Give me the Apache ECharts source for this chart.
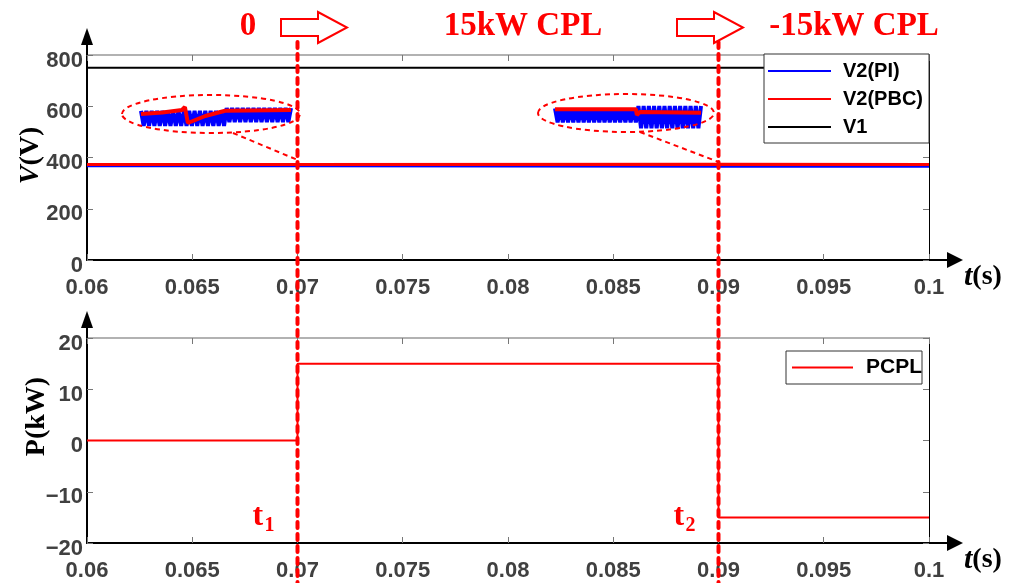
<!DOCTYPE html>
<html>
<head>
<meta charset="utf-8">
<script src="https://cdn.jsdelivr.net/npm/echarts@6/dist/echarts.min.js"></script>
<style>html,body{margin:0;padding:0;background:#fff;}#main{width:1023px;height:583px;}</style>
</head>
<body>
<div id="main"></div>
<script>
// ---------- data ----------
const xTickLabels = ['0.06','0.065','0.07','0.075','0.08','0.085','0.09','0.095','0.1'];
const tMain  = [0.06, 0.07, 0.09, 0.1];
const v2PI   = [368, 368, 366, 366];
const v2PBC  = [373, 373, 374, 373];
const v1     = [750, 750, 750, 750];
const tP     = [0.06, 0.07, 0.07, 0.09, 0.09, 0.1];
const pcpl   = [0, 0, 15, 15, -15, -15];
// zoomed insets (sample index vs voltage)
const inset1PI = [373.6,366,373.6,366,373.6,366,373.6,366,373.6,366,373.6,366,373.6,366,373.6,366,373.6,366,373.6,366,373.6,366,373.6,366,373.6,366,373.6,366,373.6,366,373.6,366,
                  375,368,375,368,375,368,375,368,375,368,375,368,375,368,375,368,375,368,375,368,375,368,375,368,375];
const inset1PBCx = [0, 8, 15.3, 16.4, 17.5, 24, 31.4, 56];
const inset1PBCy = [372, 372.8, 374, 375.5, 367.5, 371, 373.6, 374];
const inset2PI = [374.8,367.8,374.8,367.8,374.8,367.8,374.8,367.8,374.8,367.8,374.8,367.8,374.8,367.8,374.8,367.8,374.8,367.8,374.8,367.8,374.8,367.8,374.8,367.8,374.8,367.8,374.8,367.8,374.8,367.8,374.8,367.8,
                  376,364.9,376,364.9,376,364.9,376,364.9,376,364.9,376,364.9,376,364.9,376,364.9,376,364.9,376,364.9,376,364.9,376,364.9,376];
const inset2PBCx = [0, 31, 31.4, 32.5, 56];
const inset2PBCy = [374.4, 374.4, 371.5, 373, 372.6];

// ---------- helpers ----------
const zip = (a, b) => a.map((v, i) => [v, b[i]]);
const idx = a => a.map((v, i) => [i, v]);
const SANS = '"Liberation Sans", Arial, sans-serif';
const SERIF = '"Liberation Serif", "Times New Roman", serif';
const minus = v => (v < 0 ? '\u2212' + Math.abs(v) : String(v));
const xFmt = v => xTickLabels[Math.round((v - 0.06) / 0.005)] || '';

const labelStyle = {fontSize: 22, fontWeight: 'bold', color: '#404040', fontFamily: SANS};
function mainX(grid) {
  return {gridIndex: grid, type: 'value', min: 0.06, max: 0.1, interval: 0.005, position: 'bottom',
    axisLine: {onZero: false, lineStyle: {color: '#000', width: 2}},
    axisTick: {inside: true, length: 6, lineStyle: {color: '#777'}},
    axisLabel: Object.assign({margin: 17, formatter: xFmt}, labelStyle),
    splitLine: {show: false}};
}
function topX(grid) {
  return {gridIndex: grid, type: 'value', min: 0.06, max: 0.1, interval: 0.005, position: 'top',
    axisLine: {onZero: false, lineStyle: {color: '#999', width: 1.5}},
    axisTick: {inside: true, length: 6, lineStyle: {color: '#777'}},
    axisLabel: {show: false}, splitLine: {show: false}};
}
function leftY(grid, min, max, interval) {
  return {gridIndex: grid, type: 'value', min: min, max: max, interval: interval, position: 'left',
    axisLine: {show: true, onZero: false, lineStyle: {color: '#000', width: 2}},
    axisTick: {show: true, inside: true, length: 6, lineStyle: {color: '#777'}},
    axisLabel: Object.assign({margin: 4, formatter: minus, verticalAlign: 'top', lineHeight: 11}, labelStyle),
    splitLine: {show: false}};
}
function rightY(grid, min, max, interval) {
  return {gridIndex: grid, type: 'value', min: min, max: max, interval: interval, position: 'right',
    axisLine: {show: true, onZero: false, lineStyle: {color: '#000', width: 1}},
    axisTick: {show: true, inside: true, length: 6, lineStyle: {color: '#777'}},
    axisLabel: {show: false}, splitLine: {show: false}};
}
function hiddenX(grid) { return {gridIndex: grid, type: 'value', min: 0, max: 56, show: false}; }
function hiddenY(grid) { return {gridIndex: grid, type: 'value', min: 364, max: 378, show: false}; }

const chart = echarts.init(document.getElementById('main'), null, {renderer: 'canvas'});
chart.setOption({
  animation: false,
  backgroundColor: '#fff',
  grid: [
    {left: 87, top: 55, width: 842, height: 205},
    {left: 87, top: 338, width: 842, height: 205},
    {left: 141, top: 102, width: 150, height: 28},
    {left: 555, top: 102, width: 146, height: 28}
  ],
  xAxis: [mainX(0), topX(0), mainX(1), topX(1), hiddenX(2), hiddenX(3)],
  yAxis: [leftY(0, 0, 800, 200), rightY(0, 0, 800, 200), leftY(1, -20, 20, 10), rightY(1, -20, 20, 10), hiddenY(2), hiddenY(3)],
  legend: [
    {data: ['V2(PI)', 'V2(PBC)', 'V1'], orient: 'vertical', left: 764, top: 54, padding: [7, 6, 6, 4],
     itemGap: 8, itemWidth: 63, itemHeight: 2, icon: 'rect', selectedMode: false, backgroundColor: '#fff',
     borderColor: '#333', borderWidth: 1, itemStyle: {borderWidth: 0}, z: 10,
     textStyle: {fontSize: 20, fontWeight: 'bold', color: '#000', fontFamily: SANS, padding: [0, 0, 0, 7], lineHeight: 20}},
    {data: ['PCPL'], orient: 'vertical', left: 786, top: 351, padding: [6, 0, 6, 6],
     itemWidth: 61, itemHeight: 2, icon: 'rect', selectedMode: false, backgroundColor: '#fff',
     borderColor: '#333', borderWidth: 1, itemStyle: {borderWidth: 0}, z: 10,
     textStyle: {fontSize: 21, fontWeight: 'bold', color: '#000', fontFamily: SANS, padding: [0, 0, 0, 8], lineHeight: 20}}
  ],
  series: [
    {name: 'V2(PI)', type: 'line', xAxisIndex: 0, yAxisIndex: 0, symbol: 'none', color: '#0000ff',
     lineStyle: {color: '#0000ff', width: 3}, data: zip(tMain, v2PI)},
    {name: 'V2(PBC)', type: 'line', xAxisIndex: 0, yAxisIndex: 0, symbol: 'none', color: '#ff0000',
     lineStyle: {color: '#ff0000', width: 3}, data: zip(tMain, v2PBC)},
    {name: 'V1', type: 'line', xAxisIndex: 0, yAxisIndex: 0, symbol: 'none', color: '#000',
     lineStyle: {color: '#000', width: 2}, data: zip(tMain, v1)},
    {name: 'PCPL', type: 'line', xAxisIndex: 2, yAxisIndex: 2, symbol: 'none', color: '#ff0000',
     lineStyle: {color: '#ff0000', width: 2}, data: zip(tP, pcpl)},
    {name: 'V2(PI)', type: 'line', xAxisIndex: 4, yAxisIndex: 4, symbol: 'none', color: '#0000ff',
     lineStyle: {color: '#0000ff', width: 4}, data: idx(inset1PI)},
    {name: 'V2(PBC)', type: 'line', xAxisIndex: 4, yAxisIndex: 4, symbol: 'none', color: '#ff0000',
     lineStyle: {color: '#ff0000', width: 4}, data: zip(inset1PBCx, inset1PBCy)},
    {name: 'V2(PI)', type: 'line', xAxisIndex: 5, yAxisIndex: 5, symbol: 'none', color: '#0000ff',
     lineStyle: {color: '#0000ff', width: 4}, data: idx(inset2PI)},
    {name: 'V2(PBC)', type: 'line', xAxisIndex: 5, yAxisIndex: 5, symbol: 'none', color: '#ff0000',
     lineStyle: {color: '#ff0000', width: 4}, data: zip(inset2PBCx, inset2PBCy)}
  ]
});

// ---------- annotations ----------
const px = (ax, v) => chart.convertToPixel({xAxisIndex: ax}, v);
const x07 = px(0, 0.07), x09 = px(0, 0.09);
const xL = px(0, 0.06), xR = px(0, 0.1);
const yTop0 = chart.convertToPixel({yAxisIndex: 0}, 800), yBot0 = chart.convertToPixel({yAxisIndex: 0}, 0);
const yTop1 = chart.convertToPixel({yAxisIndex: 2}, 20), yBot1 = chart.convertToPixel({yAxisIndex: 2}, -20);
const yV2 = chart.convertToPixel({yAxisIndex: 0}, 371);
const RED = '#ff0000';
const g = [];
// vertical event lines
[x07, x09].forEach(x => g.push({type: 'line', z: 20, shape: {x1: x, y1: 42, x2: x, y2: 583},
  style: {stroke: RED, lineWidth: 4, lineDash: [6, 6], lineCap: 'round'}}));
// axis arrows
[[yTop0, yBot0], [yTop1, yBot1]].forEach(([yt, yb]) => {
  g.push({type: 'line', z: 5, shape: {x1: xL, y1: yt, x2: xL, y2: yt - 12}, style: {stroke: '#000', lineWidth: 2}});
  g.push({type: 'polygon', z: 5, shape: {points: [[xL, yt - 27], [xL - 6, yt - 10], [xL + 6, yt - 10]]}, style: {fill: '#000'}});
  g.push({type: 'line', z: 5, shape: {x1: xR, y1: yb, x2: xR + 20, y2: yb}, style: {stroke: '#000', lineWidth: 2}});
  g.push({type: 'polygon', z: 5, shape: {points: [[xR + 34, yb], [xR + 18, yb - 8], [xR + 18, yb + 8]]}, style: {fill: '#000'}});
  g.push({type: 'text', z: 5, style: {text: '{i|t}{n|(s)}', x: xR + 35, y: yb + 17, verticalAlign: 'middle',
    rich: {i: {font: 'italic bold 30px ' + SERIF, fill: '#000'}, n: {font: 'bold 28px ' + SERIF, fill: '#000'}}}});
});
// y axis titles
g.push({type: 'text', z: 5, x: 31, y: (yTop0 + yBot0) / 2 - 2, rotation: Math.PI / 2,
  style: {text: '{i|V}{n|(V)}', align: 'center', verticalAlign: 'middle',
    rich: {i: {font: 'italic bold 28px ' + SERIF, fill: '#000'}, n: {font: 'bold 28px ' + SERIF, fill: '#000'}}}});
g.push({type: 'text', z: 5, x: 37, y: (yTop1 + yBot1) / 2 - 24, rotation: Math.PI / 2,
  style: {text: 'P(kW)', align: 'center', verticalAlign: 'middle', font: 'bold 28px ' + SERIF, fill: '#000'}});
// header
const headFont = 'bold 33px ' + SERIF;
g.push({type: 'text', style: {text: '0', x: 248, y: 26, align: 'center', verticalAlign: 'middle', font: headFont, fill: RED}});
g.push({type: 'text', style: {text: '15kW CPL', x: 523, y: 26, align: 'center', verticalAlign: 'middle', font: headFont, fill: RED}});
g.push({type: 'text', style: {text: '-15kW CPL', x: 854, y: 26, align: 'center', verticalAlign: 'middle', font: headFont, fill: RED}});
[281, 677].forEach(a => g.push({type: 'polygon', shape: {points: [[a, 19], [a + 37, 19], [a + 37, 12], [a + 66, 27.5], [a + 37, 43], [a + 37, 36], [a, 36]]},
  style: {fill: '#fff', stroke: RED, lineWidth: 2}}));
// t1, t2
[[x07, '1'], [x09, '2']].forEach(([x, s]) => {
  g.push({type: 'text', z: 21, style: {text: 't', x: x - 45, y: 517, verticalAlign: 'middle', font: 'bold 32px ' + SERIF, fill: RED}});
  g.push({type: 'text', z: 21, style: {text: s, x: x - 33, y: 526, verticalAlign: 'middle', font: 'bold 20px ' + SERIF, fill: RED}});
});
// inset ellipses and connectors
g.push({type: 'ellipse', z: 6, shape: {cx: 211, cy: 114, rx: 89, ry: 19}, style: {fill: 'none', stroke: RED, lineWidth: 2, lineDash: [5, 4]}});
g.push({type: 'ellipse', z: 6, shape: {cx: 626, cy: 113, rx: 88, ry: 19}, style: {fill: 'none', stroke: RED, lineWidth: 2, lineDash: [5, 4]}});
g.push({type: 'line', z: 6, shape: {x1: 233, y1: 133, x2: x07, y2: yV2 - 5}, style: {stroke: RED, lineWidth: 2, lineDash: [5, 4]}});
g.push({type: 'line', z: 6, shape: {x1: 640, y1: 132, x2: x09, y2: yV2 - 3}, style: {stroke: RED, lineWidth: 2, lineDash: [5, 4]}});
chart.setOption({graphic: g});
</script>
</body>
</html>
